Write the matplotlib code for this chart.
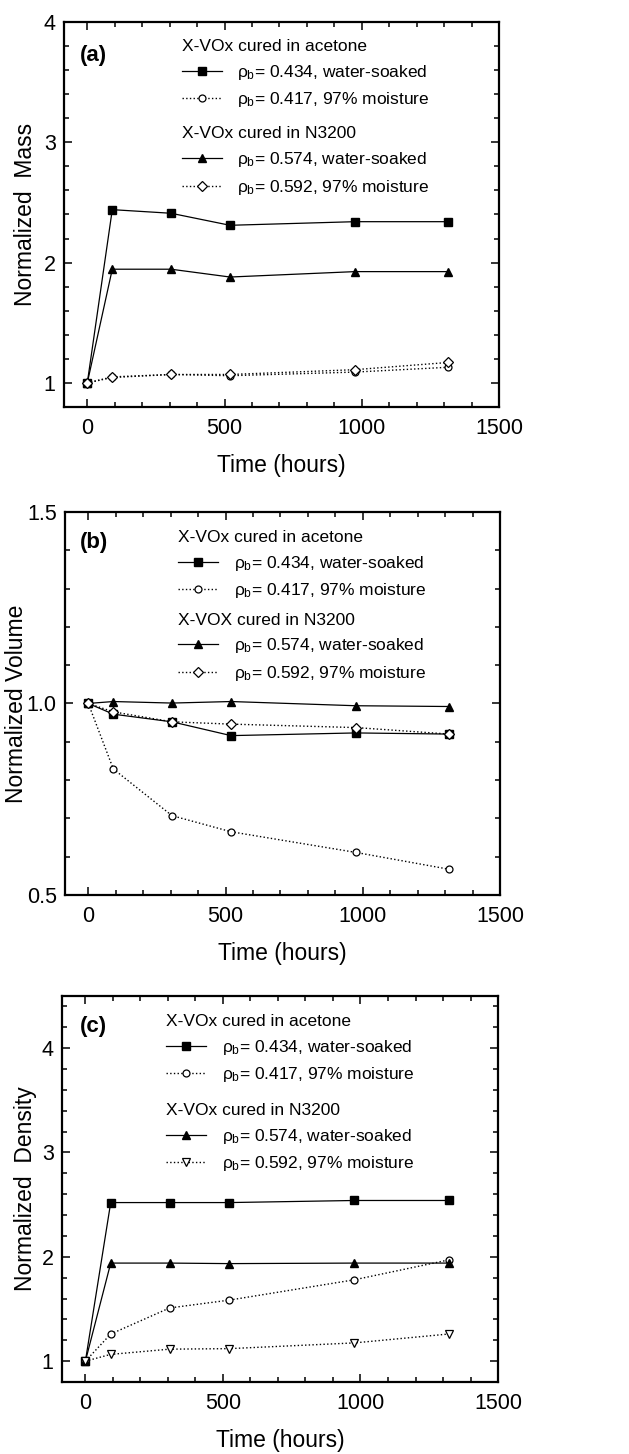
import matplotlib
matplotlib.use("Agg")
import matplotlib.pyplot as plt
from matplotlib.ticker import MultipleLocator

# -----------------------------
# Data
# -----------------------------
hours_a = [0, 91, 305, 520, 975, 1315]
hours_c = [0, 92, 306, 523, 978, 1320]

# (a) normalized mass
mass_ace_soaked = [1.00, 2.44, 2.41, 2.31, 2.34, 2.34]
mass_ace_moist = [1.00, 1.045, 1.07, 1.06, 1.09, 1.13]
mass_n32_soaked = [1.00, 1.945, 1.945, 1.88, 1.925, 1.925]
mass_n32_moist = [1.00, 1.05, 1.07, 1.07, 1.11, 1.17]

# (b) normalized volume
vol_ace_soaked = [1.00, 0.972, 0.952, 0.916, 0.923, 0.920]
vol_ace_moist = [1.00, 0.829, 0.707, 0.665, 0.611, 0.567]
vol_n32_soaked = [1.00, 1.005, 1.001, 1.005, 0.994, 0.992]
vol_n32_moist = [1.00, 0.978, 0.952, 0.946, 0.937, 0.920]

# (c) normalized density
dens_ace_soaked = [1.00, 2.52, 2.52, 2.52, 2.54, 2.54]
dens_ace_moist = [1.00, 1.26, 1.51, 1.585, 1.78, 1.97]
dens_n32_soaked = [1.00, 1.94, 1.94, 1.935, 1.94, 1.94]
dens_n32_moist = [1.00, 1.065, 1.115, 1.12, 1.175, 1.26]

lab_434 = r"$\rho_{\rm b}$= 0.434, water-soaked"
lab_417 = r"$\rho_{\rm b}$= 0.417, 97% moisture"
lab_574 = r"$\rho_{\rm b}$= 0.574, water-soaked"
lab_592 = r"$\rho_{\rm b}$= 0.592, 97% moisture"

# -----------------------------
# Style
# -----------------------------
plt.rcParams["font.family"] = ["Liberation Sans", "DejaVu Sans"]
plt.rcParams["mathtext.fontset"] = "custom"
plt.rcParams["mathtext.rm"] = "Liberation Sans"
plt.rcParams["mathtext.it"] = "Liberation Sans"
plt.rcParams["mathtext.bf"] = "Liberation Sans:bold"

TICK_FS = 15.5
LABEL_FS = 16.5
LEG_FS = 12.5


def style_axes(ax, ylim, ymajor, yminor, ylabel, ylab_x, yfmt=None):
    ax.set_xlim(-85, 1500)
    ax.set_ylim(*ylim)
    ax.xaxis.set_major_locator(MultipleLocator(500))
    ax.xaxis.set_minor_locator(MultipleLocator(100))
    ax.yaxis.set_major_locator(MultipleLocator(ymajor))
    ax.yaxis.set_minor_locator(MultipleLocator(yminor))
    if yfmt:
        ax.yaxis.set_major_formatter(yfmt)
    ax.tick_params(which="both", direction="in", top=True, right=True,
                   width=1.1, labelsize=TICK_FS)
    ax.tick_params(which="major", length=5.5, pad=8)
    ax.tick_params(which="minor", length=3.5)
    ax.tick_params(axis="y", which="major", pad=6)
    for sp in ax.spines.values():
        sp.set_linewidth(1.6)
    ax.set_xlabel("Time (hours)", fontsize=LABEL_FS, labelpad=11)
    ax.set_ylabel(ylabel, fontsize=LABEL_FS)
    ax.yaxis.set_label_coords(ylab_x, 0.5)


def draw_series(ax, x, ys, n32_moist_marker):
    a1, = ax.plot(x, ys[0], "-", color="black", lw=0.9, marker="s", ms=5.5,
                  mfc="black", mec="black", label=lab_434)
    a2, = ax.plot(x, ys[1], ":", color="black", lw=1.0, marker="o", ms=5,
                  mfc="white", mec="black", mew=0.9, label=lab_417)
    b1, = ax.plot(x, ys[2], "-", color="black", lw=0.9, marker="^", ms=6,
                  mfc="black", mec="black", label=lab_574)
    ms2 = 5 if n32_moist_marker == "D" else 6
    b2, = ax.plot(x, ys[3], ":", color="black", lw=1.0, marker=n32_moist_marker,
                  ms=ms2, mfc="white", mec="black", mew=0.9, label=lab_592)
    return [a1, a2], [b1, b2]


def add_legends(ax, h1, h2, x, y1, y2, title2):
    kw = dict(loc="upper left", frameon=False, fontsize=LEG_FS,
              title_fontsize=LEG_FS, alignment="left", borderpad=0,
              borderaxespad=0, handlelength=2.3, handletextpad=0.9,
              labelspacing=0.5, numpoints=1)
    leg1 = ax.legend(handles=h1, title="X-VOx cured in acetone",
                     bbox_to_anchor=(x, y1), **kw)
    ax.add_artist(leg1)
    ax.legend(handles=h2, title=title2, bbox_to_anchor=(x, y2), **kw)


fig = plt.figure(figsize=(6.29, 14.54), dpi=100, facecolor="white")

# -----------------------------
# (a) Mass
# -----------------------------
ax1 = fig.add_axes([0.1017, 0.7201, 0.6916, 0.2648])
h1, h2 = draw_series(ax1, hours_a,
                     [mass_ace_soaked, mass_ace_moist, mass_n32_soaked, mass_n32_moist], "D")
style_axes(ax1, (0.8, 4), 1, 0.2, "Normalized  Mass", -0.062)
add_legends(ax1, h1, h2, 0.271, 0.956, 0.729, "X-VOx cured in N3200")
ax1.text(0.037, 0.914, "(a)", transform=ax1.transAxes, fontsize=16,
         fontweight="bold", va="center", ha="left")

# -----------------------------
# (b) Volume
# -----------------------------
ax2 = fig.add_axes([0.1033, 0.3845, 0.6916, 0.2634])
h1, h2 = draw_series(ax2, hours_a,
                     [vol_ace_soaked, vol_ace_moist, vol_n32_soaked, vol_n32_moist], "D")
style_axes(ax2, (0.5, 1.5), 0.5, 0.1, "Normalized Volume", -0.086,
           yfmt=plt.FormatStrFormatter("%.1f"))
add_legends(ax2, h1, h2, 0.26, 0.953, 0.737, "X-VOX cured in N3200")
ax2.text(0.035, 0.919, "(b)", transform=ax2.transAxes, fontsize=16,
         fontweight="bold", va="center", ha="left")

# -----------------------------
# (c) Density
# -----------------------------
ax3 = fig.add_axes([0.0986, 0.0495, 0.6932, 0.2655])
h1, h2 = draw_series(ax3, hours_c,
                     [dens_ace_soaked, dens_ace_moist, dens_n32_soaked, dens_n32_moist], "v")
style_axes(ax3, (0.8, 4.5), 1, 0.2, "Normalized  Density", -0.058)
add_legends(ax3, h1, h2, 0.239, 0.953, 0.723, "X-VOx cured in N3200")
ax3.text(0.041, 0.92, "(c)", transform=ax3.transAxes, fontsize=16,
         fontweight="bold", va="center", ha="left")

fig.savefig("out.png", dpi=100, facecolor="white")
